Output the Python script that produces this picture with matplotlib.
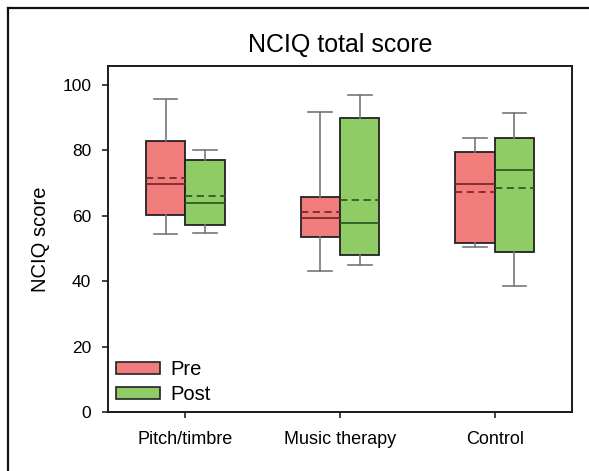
import matplotlib
matplotlib.use("Agg")
import matplotlib.pyplot as plt
from matplotlib.lines import Line2D
from matplotlib.patches import Patch

plt.rcParams['font.family'] = ['Liberation Sans', 'DejaVu Sans']

groups = ["Pitch/timbre", "Music therapy", "Control"]
series = ["Pre", "Post"]

# per group: [Pre, Post]
whislo = [[54.4, 54.8], [43.0, 45.0], [50.6, 38.4]]
q1     = [[60.3, 57.2], [53.6, 48.1], [51.8, 48.8]]
med    = [[69.6, 63.9], [59.3, 57.8], [69.6, 74.0]]
mean   = [[71.7, 66.1], [61.2, 64.9], [67.3, 68.5]]
q3     = [[82.9, 77.0], [65.6, 89.9], [79.5, 83.7]]
whishi = [[95.6, 80.0], [91.8, 96.9], [83.8, 91.5]]

yticks = [0, 20, 40, 60, 80, 100]

fill_colors = ["#f07c7c", "#8fcc66"]
line_colors = ["#7a2a2a", "#2f5a22"]

fig = plt.figure(figsize=(5.89, 4.71), dpi=100)
ax = fig.add_axes([108/589, 1-412/471, (572-108)/589, (412-66)/471])

width = 0.255
offsets = [-width/2, width/2]
for s in range(2):
    stats = []
    positions = []
    for g in range(3):
        stats.append(dict(whislo=whislo[g][s], q1=q1[g][s], med=med[g][s],
                          q3=q3[g][s], whishi=whishi[g][s], mean=mean[g][s],
                          fliers=[]))
        positions.append(g + offsets[s])
    ax.bxp(stats, positions=positions, widths=width, patch_artist=True,
           showmeans=True, meanline=True, showfliers=False,
           boxprops=dict(facecolor=fill_colors[s], edgecolor="#222222", linewidth=1.3),
           medianprops=dict(color=line_colors[s], linewidth=1.3),
           meanprops=dict(color=line_colors[s], linewidth=1.3, linestyle=(0, (4, 2.5))),
           whiskerprops=dict(color="#777777", linewidth=1.2),
           capprops=dict(color="#777777", linewidth=1.2),
           capwidths=width*0.6, zorder=2)

ax.set_xlim(-0.5, 2.5)
ax.set_ylim(0, 105.8)
ax.set_xticks(range(3))
ax.set_xticklabels(groups, fontsize=13)
ax.set_yticks(yticks)
ax.set_yticklabels([str(t) for t in yticks], fontsize=12.5)
ax.tick_params(axis='both', direction='out', length=4, width=1.2, color="#222222")
ax.tick_params(axis='x', pad=10)
ax.tick_params(axis='y', pad=8)
for sp in ax.spines.values():
    sp.set_linewidth(1.4)
    sp.set_color("#1a1a1a")
ax.set_ylabel("NCIQ score", fontsize=14.5, labelpad=9)
ax.set_title("NCIQ total score", fontsize=18, pad=10)

handles = [Patch(facecolor=fill_colors[i], edgecolor="#222222", linewidth=1.2, label=series[i]) for i in range(2)]
ax.legend(handles=handles, loc="lower left", frameon=False, fontsize=14.5,
          handlelength=2.2, handleheight=0.55, borderaxespad=0.2, labelspacing=0.3,
          handletextpad=0.5, borderpad=0.2)

# outer frame (left and top visible)
fig.add_artist(Line2D([8/589, 8/589], [0, 1-8/471], transform=fig.transFigure, color="#111111", linewidth=1.6))
fig.add_artist(Line2D([8/589, 1], [1-8/471, 1-8/471], transform=fig.transFigure, color="#111111", linewidth=1.6))

fig.savefig("out.png", dpi=100)
